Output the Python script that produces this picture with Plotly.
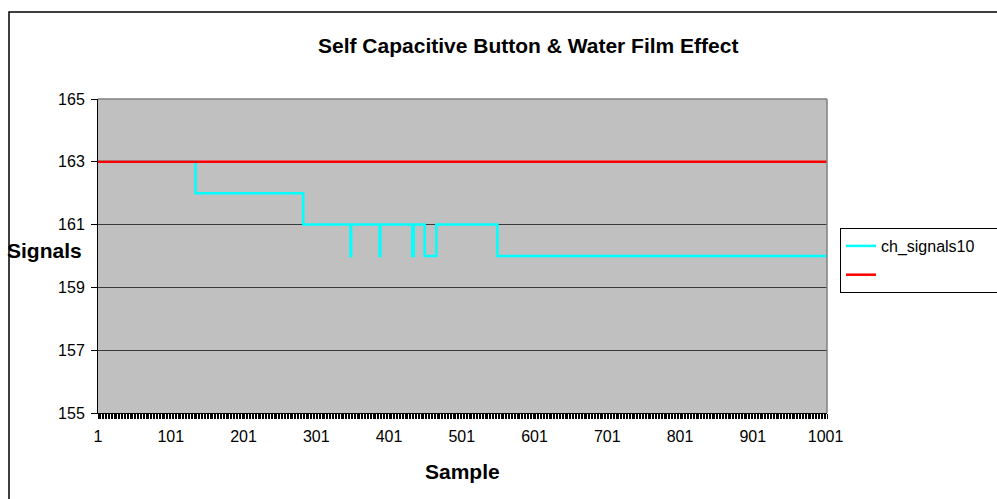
import plotly.graph_objects as go

# Step signal of channel 10: sample index where each level starts, and the level
sample_breaks = [1, 135, 283, 348, 349, 388, 389, 433, 435, 450, 466, 550, 1003]
signal_levels = [163, 162, 161, 160, 161, 160, 161, 160, 161, 160, 161, 160, 160]

# Threshold line
threshold_x = [1, 1003]
threshold_y = [163, 163]

y_ticks = [155, 157, 159, 161, 163, 165]
x_tick_vals = [1, 101, 201, 301, 401, 501, 601, 701, 801, 901, 1001]

W, H = 997, 499
L, R, T, B = 98, 170, 99, 86
pw, ph = W - L - R, H - T - B


def px_x(px):
    return (px - L) / pw


def px_y(py):
    return (H - B - py) / ph


font = "Liberation Sans, Arial, sans-serif"

fig = go.Figure()
fig.add_trace(go.Scatter(
    x=sample_breaks, y=signal_levels, mode="lines", line_shape="hv",
    line=dict(color="#00FFFF", width=2.5),
    # trailing no-break spaces widen the legend box
    name="ch_signals10" + "\u00a0" * 4,
    legendgroup="a",
))
fig.add_trace(go.Scatter(
    x=threshold_x, y=threshold_y, mode="lines",
    line=dict(color="#FF0000", width=2.5), name=" ",
    legendgroup="b",
))

fig.update_layout(
    width=W, height=H,
    margin=dict(l=L, r=R, t=T, b=B, autoexpand=False),
    paper_bgcolor="white", plot_bgcolor="#C0C0C0",
    font=dict(family=font, size=16, color="black"),
    showlegend=True,
    legend=dict(
        x=px_x(840), xanchor="left", y=px_y(228), yanchor="top",
        bordercolor="black", borderwidth=1, bgcolor="white",
        font=dict(size=16), tracegroupgap=5, itemwidth=30,
    ),
    xaxis=dict(
        range=[1, 1003], tickmode="array", tickvals=x_tick_vals,
        ticks="outside", ticklen=0, showgrid=False, zeroline=False,
        showline=True, linecolor="black", linewidth=1,
        tickfont=dict(size=16), ticklabelstandoff=9,
        minor=dict(dtick=2, tick0=1, ticks="outside", ticklen=5,
                   tickcolor="black", tickwidth=1.2),
    ),
    yaxis=dict(
        range=[155, 165], tickmode="array", tickvals=y_ticks,
        ticks="outside", ticklen=6, tickcolor="black",
        showgrid=True, gridcolor="#3a3a3a", gridwidth=1, zeroline=False,
        showline=True, linecolor="black", linewidth=1,
        tickfont=dict(size=16), ticklabelstandoff=3,
    ),
    shapes=[
        # outer chart frame
        dict(type="rect", xref="paper", yref="paper",
             x0=px_x(9), x1=px_x(1010), y0=px_y(12), y1=px_y(510),
             line=dict(color="black", width=1.5), fillcolor="rgba(0,0,0,0)"),
        # plot area top and right borders
        dict(type="line", xref="paper", yref="paper", x0=0, x1=1, y0=1, y1=1,
             line=dict(color="#808080", width=1.5)),
        dict(type="line", xref="paper", yref="paper", x0=1, x1=1, y0=0, y1=1,
             line=dict(color="#808080", width=1.5)),
    ],
    annotations=[
        dict(text="<b>Self Capacitive Button & Water Film Effect</b>",
             xref="paper", yref="paper", x=px_x(528), y=px_y(45),
             xanchor="center", yanchor="middle", showarrow=False,
             font=dict(size=21)),
        dict(text="<b>Signals</b>", xref="paper", yref="paper",
             x=px_x(44), y=px_y(250), xanchor="center", yanchor="middle",
             showarrow=False, font=dict(size=21)),
        dict(text="<b>Sample</b>", xref="paper", yref="paper",
             x=px_x(462), y=px_y(471), xanchor="center", yanchor="middle",
             showarrow=False, font=dict(size=21)),
    ],
)

fig.write_html("out.html")
